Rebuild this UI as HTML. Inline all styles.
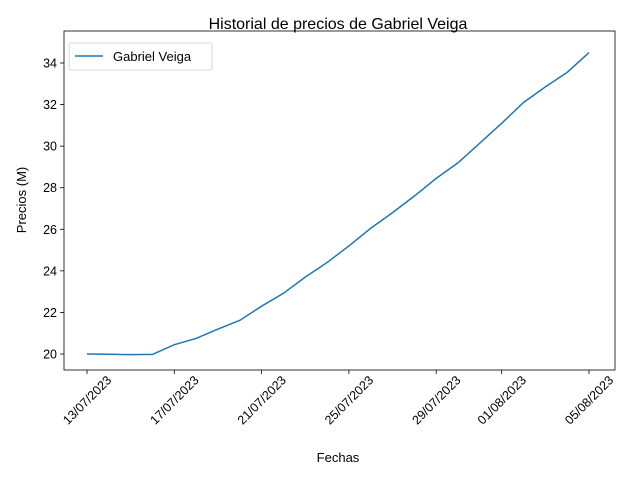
<!DOCTYPE html>
<html><head><meta charset="utf-8"><style>body{margin:0;background:#fff}svg{display:block;font-family:"Liberation Sans","DejaVu Sans",sans-serif}</style></head>
<body>
<svg id="chart" width="640" height="480">
<rect width="640" height="480" fill="#fff"/>
<text x="338" y="29" text-anchor="middle" font-size="16">Historial de precios de Gabriel Veiga</text>
<g id="axes"></g>
<text x="338" y="462" text-anchor="middle" font-size="13">Fechas</text>
<text transform="translate(26,200) rotate(-90)" text-anchor="middle" font-size="13">Precios (M)</text>
</svg>
<script>
const dayOffsets=[0,1,2,3,4,5,6,7,8,9,10,11,12,13,14,15,16,17,18,19,20,21,22,23];
const prices=[20.0,19.99,19.97,19.98,20.45,20.75,21.2,21.62,22.3,22.92,23.7,24.4,25.2,26.05,26.8,27.6,28.45,29.2,30.15,31.1,32.1,32.85,33.55,34.5];
const xTickDays=[0,4,8,12,16,19,23];
const xTickLabels=["13/07/2023","17/07/2023","21/07/2023","25/07/2023","29/07/2023","01/08/2023","05/08/2023"];
const yTicks=[20,22,24,26,28,30,32,34];
const L=64,R=615,T=31,B=370;
const x=d=>87+(d-0)*(589-87)/23;
const y=v=>354-(v-20)*(354-63)/14;
const NS="http://www.w3.org/2000/svg";
const g=document.getElementById('axes');
function mk(t,a){const e=document.createElementNS(NS,t);for(const k in a)e.setAttribute(k,a[k]);g.appendChild(e);return e;}
xTickDays.forEach((d,i)=>{
 const tk=mk('line',{x1:x(d),x2:x(d),y1:B,y2:B+4,stroke:'#000','stroke-width':0.8});
 
 
 const t=mk('text',{'font-size':12.5,'text-anchor':'middle',dy:'0.35em',transform:`translate(${x(d)},${B+30}) rotate(-45)`});
 t.textContent=xTickLabels[i];
 
 
});
yTicks.forEach(v=>{
 const tk=mk('line',{x1:L-4,x2:L,y1:y(v),y2:y(v),stroke:'#000','stroke-width':0.8});
 
 
 const t=mk('text',{x:L-7,y:y(v)+4.5,'font-size':12.5,'text-anchor':'end'});
 t.textContent=v;
 
 
});
const line=mk('polyline',{points:dayOffsets.map((d,i)=>x(d)+','+y(prices[i])).join(' '),fill:'none',stroke:'#1f77b4','stroke-width':1.5});


const frame=mk('rect',{x:L,y:T,width:R-L,height:B-T,fill:'none',stroke:'#000','stroke-width':0.8});


const lg=mk('rect',{x:69,y:43,width:143,height:27,rx:2,fill:'#fff',stroke:'#ccc','stroke-width':0.8});


const ll=mk('line',{x1:75,x2:103,y1:56,y2:56,stroke:'#1f77b4','stroke-width':1.5});


const lt=mk('text',{x:113,y:61,'font-size':13});
lt.textContent='Gabriel Veiga';


</script>
</body></html>
